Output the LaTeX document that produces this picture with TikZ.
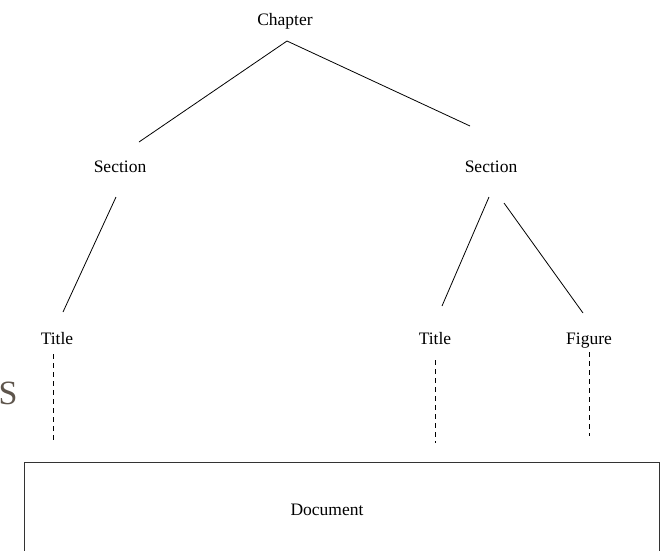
\documentclass[tikz,border=0pt]{standalone}
\usepackage{fontspec}
\setmainfont{Liberation Serif}
\definecolor{sgray}{HTML}{5E554C}
\begin{document}
\begin{tikzpicture}[x=1pt,y=-1pt,
  lbl/.style={inner sep=1pt,text height=11.5pt,text depth=3.5pt,font=\fontsize{17.5}{17.5}\selectfont},
  tree/.style={line width=0.8pt},
  dash line/.style={line width=0.8pt,dash pattern=on 5pt off 4pt}]
\useasboundingbox (0,0) rectangle (662,550);
% nodes
\node[lbl] (chapter) at (285,21) {Chapter};
\node[lbl] (secL) at (120,168) {Section};
\node[lbl] (secR) at (491,168) {Section};
\node[lbl] (titL) at (57,340) {Title};
\node[lbl] (titR) at (435,340) {Title};
\node[lbl] (fig) at (589,340) {Figure};
\node[lbl] (doc) at (327,511) {Document};
\node[text=sgray,inner sep=0pt,font=\fontsize{34}{34}\selectfont] (s) at (8,393) {S};
% connector ends
\coordinate (c0) at (287,41);
\coordinate (sl) at (139,142);
\coordinate (sr) at (470,126);
\coordinate (slb) at (116,197);
\coordinate (tl) at (63,312);
\coordinate (srb1) at (489,197);
\coordinate (tr) at (442,306);
\coordinate (srb2) at (504,203);
\coordinate (fg) at (583,313);
\coordinate (dl1) at (53,354);
\coordinate (dl2) at (53,443);
\coordinate (dr1) at (435,360);
\coordinate (dr2) at (435,443);
\coordinate (df1) at (589,352);
\coordinate (df2) at (589,436);
% tree lines
\draw[tree] (c0) -- (sl);
\draw[tree] (c0) -- (sr);
\draw[tree] (slb) -- (tl);
\draw[tree] (srb1) -- (tr);
\draw[tree] (srb2) -- (fg);
% dashed
\draw[dash line] (dl1) -- (dl2);
\draw[dash line] (dr1) -- (dr2);
\draw[dash line] (df1) -- (df2);
% document box
\draw[line width=0.9pt,draw=black!80] (24,462) rectangle (659,570);
\end{tikzpicture}
\end{document}
